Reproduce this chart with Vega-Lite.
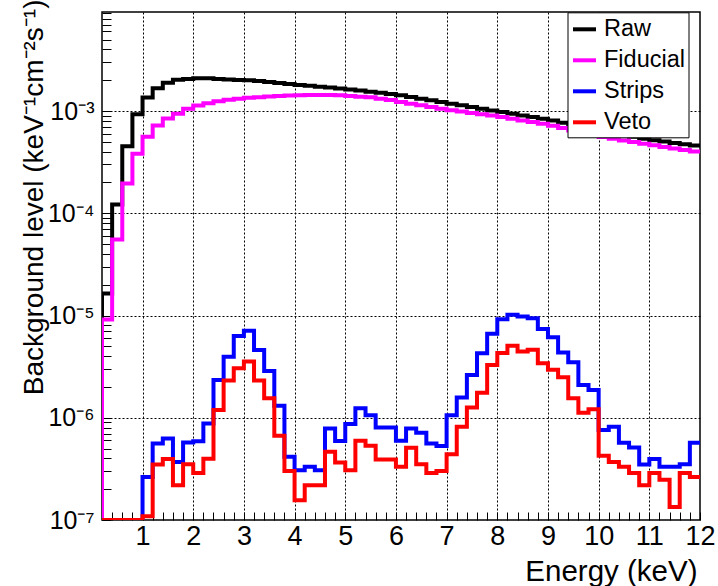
{
  "$schema": "https://vega.github.io/schema/vega-lite/v6.json",
  "width": 598,
  "height": 508,
  "autosize": {"type": "none"},
  "padding": {"left": 102, "top": 12, "right": 18, "bottom": 66},
  "background": "white",
  "config": {
    "view": {"stroke": "black", "strokeWidth": 1.5},
    "font": "Liberation Sans"
  },
  "datasets": {
    "hist": [
      {"s":"Raw","i":0,"e":0.2,"v":1e-7},
      {"s":"Raw","i":1,"e":0.2,"v":1.64e-5},
      {"s":"Raw","i":2,"e":0.4,"v":1.22e-4},
      {"s":"Raw","i":3,"e":0.6,"v":4.53e-4},
      {"s":"Raw","i":4,"e":0.8,"v":9.30e-4},
      {"s":"Raw","i":5,"e":1.0,"v":1.356e-3},
      {"s":"Raw","i":6,"e":1.2,"v":1.668e-3},
      {"s":"Raw","i":7,"e":1.4,"v":1.888e-3},
      {"s":"Raw","i":8,"e":1.6,"v":2.020e-3},
      {"s":"Raw","i":9,"e":1.8,"v":2.052e-3},
      {"s":"Raw","i":10,"e":2.0,"v":2.089e-3},
      {"s":"Raw","i":11,"e":2.2,"v":2.089e-3},
      {"s":"Raw","i":12,"e":2.4,"v":2.052e-3},
      {"s":"Raw","i":13,"e":2.6,"v":2.033e-3},
      {"s":"Raw","i":14,"e":2.8,"v":2.015e-3},
      {"s":"Raw","i":15,"e":3.0,"v":1.997e-3},
      {"s":"Raw","i":16,"e":3.2,"v":1.966e-3},
      {"s":"Raw","i":17,"e":3.4,"v":1.922e-3},
      {"s":"Raw","i":18,"e":3.6,"v":1.879e-3},
      {"s":"Raw","i":19,"e":3.8,"v":1.837e-3},
      {"s":"Raw","i":20,"e":4.0,"v":1.800e-3},
      {"s":"Raw","i":21,"e":4.2,"v":1.764e-3},
      {"s":"Raw","i":22,"e":4.4,"v":1.728e-3},
      {"s":"Raw","i":23,"e":4.6,"v":1.698e-3},
      {"s":"Raw","i":24,"e":4.8,"v":1.664e-3},
      {"s":"Raw","i":25,"e":5.0,"v":1.627e-3},
      {"s":"Raw","i":26,"e":5.2,"v":1.587e-3},
      {"s":"Raw","i":27,"e":5.4,"v":1.545e-3},
      {"s":"Raw","i":28,"e":5.6,"v":1.507e-3},
      {"s":"Raw","i":29,"e":5.8,"v":1.470e-3},
      {"s":"Raw","i":30,"e":6.0,"v":1.424e-3},
      {"s":"Raw","i":31,"e":6.2,"v":1.371e-3},
      {"s":"Raw","i":32,"e":6.4,"v":1.319e-3},
      {"s":"Raw","i":33,"e":6.6,"v":1.273e-3},
      {"s":"Raw","i":34,"e":6.8,"v":1.225e-3},
      {"s":"Raw","i":35,"e":7.0,"v":1.181e-3},
      {"s":"Raw","i":36,"e":7.2,"v":1.137e-3},
      {"s":"Raw","i":37,"e":7.4,"v":1.094e-3},
      {"s":"Raw","i":38,"e":7.6,"v":1.053e-3},
      {"s":"Raw","i":39,"e":7.8,"v":1.014e-3},
      {"s":"Raw","i":40,"e":8.0,"v":9.78e-4},
      {"s":"Raw","i":41,"e":8.2,"v":9.41e-4},
      {"s":"Raw","i":42,"e":8.4,"v":9.06e-4},
      {"s":"Raw","i":43,"e":8.6,"v":8.74e-4},
      {"s":"Raw","i":44,"e":8.8,"v":8.41e-4},
      {"s":"Raw","i":45,"e":9.0,"v":8.06e-4},
      {"s":"Raw","i":46,"e":9.2,"v":7.68e-4},
      {"s":"Raw","i":47,"e":9.4,"v":7.31e-4},
      {"s":"Raw","i":48,"e":9.6,"v":6.97e-4},
      {"s":"Raw","i":49,"e":9.8,"v":6.65e-4},
      {"s":"Raw","i":50,"e":10.0,"v":6.36e-4},
      {"s":"Raw","i":51,"e":10.2,"v":6.09e-4},
      {"s":"Raw","i":52,"e":10.4,"v":5.84e-4},
      {"s":"Raw","i":53,"e":10.6,"v":5.60e-4},
      {"s":"Raw","i":54,"e":10.8,"v":5.37e-4},
      {"s":"Raw","i":55,"e":11.0,"v":5.18e-4},
      {"s":"Raw","i":56,"e":11.2,"v":5.03e-4},
      {"s":"Raw","i":57,"e":11.4,"v":4.87e-4},
      {"s":"Raw","i":58,"e":11.6,"v":4.73e-4},
      {"s":"Raw","i":59,"e":11.8,"v":4.60e-4},
      {"s":"Raw","i":60,"e":12.0,"v":4.60e-4},

      {"s":"Fiducial","i":0,"e":0.2,"v":1e-7},
      {"s":"Fiducial","i":1,"e":0.2,"v":9.12e-6},
      {"s":"Fiducial","i":2,"e":0.4,"v":5.53e-5},
      {"s":"Fiducial","i":3,"e":0.6,"v":1.95e-4},
      {"s":"Fiducial","i":4,"e":0.8,"v":3.81e-4},
      {"s":"Fiducial","i":5,"e":1.0,"v":5.59e-4},
      {"s":"Fiducial","i":6,"e":1.2,"v":7.21e-4},
      {"s":"Fiducial","i":7,"e":1.4,"v":8.45e-4},
      {"s":"Fiducial","i":8,"e":1.6,"v":9.39e-4},
      {"s":"Fiducial","i":9,"e":1.8,"v":1.051e-3},
      {"s":"Fiducial","i":10,"e":2.0,"v":1.132e-3},
      {"s":"Fiducial","i":11,"e":2.2,"v":1.192e-3},
      {"s":"Fiducial","i":12,"e":2.4,"v":1.247e-3},
      {"s":"Fiducial","i":13,"e":2.6,"v":1.287e-3},
      {"s":"Fiducial","i":14,"e":2.8,"v":1.316e-3},
      {"s":"Fiducial","i":15,"e":3.0,"v":1.346e-3},
      {"s":"Fiducial","i":16,"e":3.2,"v":1.365e-3},
      {"s":"Fiducial","i":17,"e":3.4,"v":1.386e-3},
      {"s":"Fiducial","i":18,"e":3.6,"v":1.402e-3},
      {"s":"Fiducial","i":19,"e":3.8,"v":1.418e-3},
      {"s":"Fiducial","i":20,"e":4.0,"v":1.428e-3},
      {"s":"Fiducial","i":21,"e":4.2,"v":1.431e-3},
      {"s":"Fiducial","i":22,"e":4.4,"v":1.434e-3},
      {"s":"Fiducial","i":23,"e":4.6,"v":1.431e-3},
      {"s":"Fiducial","i":24,"e":4.8,"v":1.428e-3},
      {"s":"Fiducial","i":25,"e":5.0,"v":1.402e-3},
      {"s":"Fiducial","i":26,"e":5.2,"v":1.380e-3},
      {"s":"Fiducial","i":27,"e":5.4,"v":1.361e-3},
      {"s":"Fiducial","i":28,"e":5.6,"v":1.316e-3},
      {"s":"Fiducial","i":29,"e":5.8,"v":1.281e-3},
      {"s":"Fiducial","i":30,"e":6.0,"v":1.228e-3},
      {"s":"Fiducial","i":31,"e":6.2,"v":1.181e-3},
      {"s":"Fiducial","i":32,"e":6.4,"v":1.137e-3},
      {"s":"Fiducial","i":33,"e":6.6,"v":1.094e-3},
      {"s":"Fiducial","i":34,"e":6.8,"v":1.053e-3},
      {"s":"Fiducial","i":35,"e":7.0,"v":1.018e-3},
      {"s":"Fiducial","i":36,"e":7.2,"v":9.89e-4},
      {"s":"Fiducial","i":37,"e":7.4,"v":9.58e-4},
      {"s":"Fiducial","i":38,"e":7.6,"v":9.30e-4},
      {"s":"Fiducial","i":39,"e":7.8,"v":9.04e-4},
      {"s":"Fiducial","i":40,"e":8.0,"v":8.74e-4},
      {"s":"Fiducial","i":41,"e":8.2,"v":8.41e-4},
      {"s":"Fiducial","i":42,"e":8.4,"v":8.09e-4},
      {"s":"Fiducial","i":43,"e":8.6,"v":7.80e-4},
      {"s":"Fiducial","i":44,"e":8.8,"v":7.51e-4},
      {"s":"Fiducial","i":45,"e":9.0,"v":7.18e-4},
      {"s":"Fiducial","i":46,"e":9.2,"v":6.82e-4},
      {"s":"Fiducial","i":47,"e":9.4,"v":6.46e-4},
      {"s":"Fiducial","i":48,"e":9.6,"v":6.13e-4},
      {"s":"Fiducial","i":49,"e":9.8,"v":5.82e-4},
      {"s":"Fiducial","i":50,"e":10.0,"v":5.57e-4},
      {"s":"Fiducial","i":51,"e":10.2,"v":5.36e-4},
      {"s":"Fiducial","i":52,"e":10.4,"v":5.16e-4},
      {"s":"Fiducial","i":53,"e":10.6,"v":4.97e-4},
      {"s":"Fiducial","i":54,"e":10.8,"v":4.79e-4},
      {"s":"Fiducial","i":55,"e":11.0,"v":4.62e-4},
      {"s":"Fiducial","i":56,"e":11.2,"v":4.46e-4},
      {"s":"Fiducial","i":57,"e":11.4,"v":4.31e-4},
      {"s":"Fiducial","i":58,"e":11.6,"v":4.16e-4},
      {"s":"Fiducial","i":59,"e":11.8,"v":4.02e-4},
      {"s":"Fiducial","i":60,"e":12.0,"v":4.02e-4},

      {"s":"Strips","i":0,"e":0.2,"v":1e-7},
      {"s":"Strips","i":1,"e":0.2,"v":1e-7},
      {"s":"Strips","i":2,"e":0.4,"v":1e-7},
      {"s":"Strips","i":3,"e":0.6,"v":1e-7},
      {"s":"Strips","i":4,"e":0.8,"v":1e-7},
      {"s":"Strips","i":5,"e":1.0,"v":2.64e-7},
      {"s":"Strips","i":6,"e":1.2,"v":5.6e-7},
      {"s":"Strips","i":7,"e":1.4,"v":6.28e-7},
      {"s":"Strips","i":8,"e":1.6,"v":3.7e-7},
      {"s":"Strips","i":9,"e":1.8,"v":5.74e-7},
      {"s":"Strips","i":10,"e":2.0,"v":5.9e-7},
      {"s":"Strips","i":11,"e":2.2,"v":8.8e-7},
      {"s":"Strips","i":12,"e":2.4,"v":2.34e-6},
      {"s":"Strips","i":13,"e":2.6,"v":3.96e-6},
      {"s":"Strips","i":14,"e":2.8,"v":6.3e-6},
      {"s":"Strips","i":15,"e":3.0,"v":7.08e-6},
      {"s":"Strips","i":16,"e":3.2,"v":4.6e-6},
      {"s":"Strips","i":17,"e":3.4,"v":2.87e-6},
      {"s":"Strips","i":18,"e":3.6,"v":1.31e-6},
      {"s":"Strips","i":19,"e":3.8,"v":4.15e-7},
      {"s":"Strips","i":20,"e":4.0,"v":3.07e-7},
      {"s":"Strips","i":21,"e":4.2,"v":3.31e-7},
      {"s":"Strips","i":22,"e":4.4,"v":3.07e-7},
      {"s":"Strips","i":23,"e":4.6,"v":7.87e-7},
      {"s":"Strips","i":24,"e":4.8,"v":5.91e-7},
      {"s":"Strips","i":25,"e":5.0,"v":8.67e-7},
      {"s":"Strips","i":26,"e":5.2,"v":1.24e-6},
      {"s":"Strips","i":27,"e":5.4,"v":1.06e-6},
      {"s":"Strips","i":28,"e":5.6,"v":8.05e-7},
      {"s":"Strips","i":29,"e":5.8,"v":8.05e-7},
      {"s":"Strips","i":30,"e":6.0,"v":5.96e-7},
      {"s":"Strips","i":31,"e":6.2,"v":7.87e-7},
      {"s":"Strips","i":32,"e":6.4,"v":7.13e-7},
      {"s":"Strips","i":33,"e":6.6,"v":5.61e-7},
      {"s":"Strips","i":34,"e":6.8,"v":5.28e-7},
      {"s":"Strips","i":35,"e":7.0,"v":1.06e-6},
      {"s":"Strips","i":36,"e":7.2,"v":1.58e-6},
      {"s":"Strips","i":37,"e":7.4,"v":2.62e-6},
      {"s":"Strips","i":38,"e":7.6,"v":4.28e-6},
      {"s":"Strips","i":39,"e":7.8,"v":6.62e-6},
      {"s":"Strips","i":40,"e":8.0,"v":9.2e-6},
      {"s":"Strips","i":41,"e":8.2,"v":1.02e-5},
      {"s":"Strips","i":42,"e":8.4,"v":9.78e-6},
      {"s":"Strips","i":43,"e":8.6,"v":9.4e-6},
      {"s":"Strips","i":44,"e":8.8,"v":7.36e-6},
      {"s":"Strips","i":45,"e":9.0,"v":6.13e-6},
      {"s":"Strips","i":46,"e":9.2,"v":4.34e-6},
      {"s":"Strips","i":47,"e":9.4,"v":3.49e-6},
      {"s":"Strips","i":48,"e":9.6,"v":2.09e-6},
      {"s":"Strips","i":49,"e":9.8,"v":1.87e-6},
      {"s":"Strips","i":50,"e":10.0,"v":7.57e-7},
      {"s":"Strips","i":51,"e":10.2,"v":8.17e-7},
      {"s":"Strips","i":52,"e":10.4,"v":5.69e-7},
      {"s":"Strips","i":53,"e":10.6,"v":5.13e-7},
      {"s":"Strips","i":54,"e":10.8,"v":3.49e-7},
      {"s":"Strips","i":55,"e":11.0,"v":3.94e-7},
      {"s":"Strips","i":56,"e":11.2,"v":3.31e-7},
      {"s":"Strips","i":57,"e":11.4,"v":3.31e-7},
      {"s":"Strips","i":58,"e":11.6,"v":3.51e-7},
      {"s":"Strips","i":59,"e":11.8,"v":5.69e-7},
      {"s":"Strips","i":60,"e":12.0,"v":5.69e-7},

      {"s":"Veto","i":0,"e":0.2,"v":1e-7},
      {"s":"Veto","i":1,"e":0.2,"v":1e-7},
      {"s":"Veto","i":2,"e":0.4,"v":1e-7},
      {"s":"Veto","i":3,"e":0.6,"v":1e-7},
      {"s":"Veto","i":4,"e":0.8,"v":1e-7},
      {"s":"Veto","i":5,"e":1.0,"v":1.09e-7},
      {"s":"Veto","i":6,"e":1.2,"v":3.49e-7},
      {"s":"Veto","i":7,"e":1.4,"v":3.94e-7},
      {"s":"Veto","i":8,"e":1.6,"v":2.19e-7},
      {"s":"Veto","i":9,"e":1.8,"v":3.51e-7},
      {"s":"Veto","i":10,"e":2.0,"v":2.89e-7},
      {"s":"Veto","i":11,"e":2.2,"v":3.98e-7},
      {"s":"Veto","i":12,"e":2.4,"v":1.19e-6},
      {"s":"Veto","i":13,"e":2.6,"v":2.31e-6},
      {"s":"Veto","i":14,"e":2.8,"v":3.05e-6},
      {"s":"Veto","i":15,"e":3.0,"v":3.54e-6},
      {"s":"Veto","i":16,"e":3.2,"v":2.31e-6},
      {"s":"Veto","i":17,"e":3.4,"v":1.55e-6},
      {"s":"Veto","i":18,"e":3.6,"v":6.67e-7},
      {"s":"Veto","i":19,"e":3.8,"v":3.02e-7},
      {"s":"Veto","i":20,"e":4.0,"v":1.56e-7},
      {"s":"Veto","i":21,"e":4.2,"v":2.19e-7},
      {"s":"Veto","i":22,"e":4.4,"v":2.19e-7},
      {"s":"Veto","i":23,"e":4.6,"v":4.65e-7},
      {"s":"Veto","i":24,"e":4.8,"v":3.65e-7},
      {"s":"Veto","i":25,"e":5.0,"v":3.07e-7},
      {"s":"Veto","i":26,"e":5.2,"v":5.96e-7},
      {"s":"Veto","i":27,"e":5.4,"v":5.31e-7},
      {"s":"Veto","i":28,"e":5.6,"v":3.91e-7},
      {"s":"Veto","i":29,"e":5.8,"v":3.91e-7},
      {"s":"Veto","i":30,"e":6.0,"v":3.31e-7},
      {"s":"Veto","i":31,"e":6.2,"v":5.08e-7},
      {"s":"Veto","i":32,"e":6.4,"v":3.51e-7},
      {"s":"Veto","i":33,"e":6.6,"v":2.89e-7},
      {"s":"Veto","i":34,"e":6.8,"v":3.02e-7},
      {"s":"Veto","i":35,"e":7.0,"v":4.4e-7},
      {"s":"Veto","i":36,"e":7.2,"v":8.17e-7},
      {"s":"Veto","i":37,"e":7.4,"v":1.26e-6},
      {"s":"Veto","i":38,"e":7.6,"v":1.76e-6},
      {"s":"Veto","i":39,"e":7.8,"v":3.29e-6},
      {"s":"Veto","i":40,"e":8.0,"v":4.3e-6},
      {"s":"Veto","i":41,"e":8.2,"v":5.05e-6},
      {"s":"Veto","i":42,"e":8.4,"v":4.44e-6},
      {"s":"Veto","i":43,"e":8.6,"v":4.62e-6},
      {"s":"Veto","i":44,"e":8.8,"v":3.41e-6},
      {"s":"Veto","i":45,"e":9.0,"v":2.94e-6},
      {"s":"Veto","i":46,"e":9.2,"v":2.49e-6},
      {"s":"Veto","i":47,"e":9.4,"v":1.55e-6},
      {"s":"Veto","i":48,"e":9.6,"v":1.12e-6},
      {"s":"Veto","i":49,"e":9.8,"v":1.21e-6},
      {"s":"Veto","i":50,"e":10.0,"v":4.24e-7},
      {"s":"Veto","i":51,"e":10.2,"v":3.70e-7},
      {"s":"Veto","i":52,"e":10.4,"v":3.31e-7},
      {"s":"Veto","i":53,"e":10.6,"v":2.89e-7},
      {"s":"Veto","i":54,"e":10.8,"v":2.19e-7},
      {"s":"Veto","i":55,"e":11.0,"v":2.89e-7},
      {"s":"Veto","i":56,"e":11.2,"v":2.47e-7},
      {"s":"Veto","i":57,"e":11.4,"v":1.34e-7},
      {"s":"Veto","i":58,"e":11.6,"v":2.89e-7},
      {"s":"Veto","i":59,"e":11.8,"v":2.64e-7},
      {"s":"Veto","i":60,"e":12.0,"v":2.64e-7}
    ]
  },
  "data": {"name": "hist"},
  "mark": {"type": "line", "interpolate": "step-after", "strokeWidth": 4, "strokeJoin": "miter", "strokeCap": "butt", "clip": true},
  "encoding": {
    "x": {
      "field": "e", "type": "quantitative",
      "scale": {"domain": [0.2, 12], "nice": false, "zero": false},
      "axis": {
        "values": [0.2,0.4,0.6,0.8,1,1.2,1.4,1.6,1.8,2,2.2,2.4,2.6,2.8,3,3.2,3.4,3.6,3.8,4,4.2,4.4,4.6,4.8,5,5.2,5.4,5.6,5.8,6,6.2,6.4,6.6,6.8,7,7.2,7.4,7.6,7.8,8,8.2,8.4,8.6,8.8,9,9.2,9.4,9.6,9.8,10,10.2,10.4,10.6,10.8,11,11.2,11.4,11.6,11.8,12],
        "labelExpr": "abs(datum.value - round(datum.value)) < 0.01 ? '' + round(datum.value) : ''",
        "labelOverlap": false,
        "labelFlush": false,
        "labelBound": false,
        "labelFont": "Liberation Sans",
        "labelFontSize": 27,
        "labelColor": "black",
        "labelPadding": 11,
        "domain": false,
        "grid": true,
        "gridColor": "black",
        "gridDash": [2, 2],
        "gridWidth": 1,
        "gridOpacity": {"condition": {"test": "abs(datum.value - round(datum.value)) < 0.01 && datum.value < 11.9", "value": 1}, "value": 0},
        "ticks": true,
        "tickColor": "black",
        "tickWidth": 1,
        "tickSize": -8,
        "title": "Energy (keV)",
        "titleFont": "Liberation Sans",
        "titleFontSize": 29.5,
        "titleFontWeight": "normal",
        "titleColor": "black",
        "titleAlign": "right",
        "titleAnchor": "end",
        "titleBaseline": "alphabetic",
        "titleX": 595,
        "titleY": 60
      }
    },
    "y": {
      "field": "v", "type": "quantitative",
      "scale": {"type": "log", "domain": [1e-7, 0.0093], "nice": false},
      "axis": {
        "values": [1e-7,2e-7,3e-7,4e-7,5e-7,6e-7,7e-7,8e-7,9e-7,1e-6,2e-6,3e-6,4e-6,5e-6,6e-6,7e-6,8e-6,9e-6,1e-5,2e-5,3e-5,4e-5,5e-5,6e-5,7e-5,8e-5,9e-5,1e-4,2e-4,3e-4,4e-4,5e-4,6e-4,7e-4,8e-4,9e-4,1e-3,2e-3,3e-3,4e-3,5e-3,6e-3,7e-3,8e-3,9e-3],
        "labelExpr": "datum.value === 1e-7 ? '10⁻⁷' : datum.value === 1e-6 ? '10⁻⁶' : datum.value === 1e-5 ? '10⁻⁵' : datum.value === 1e-4 ? '10⁻⁴' : datum.value === 1e-3 ? '10⁻³' : ''",
        "labelOverlap": false,
        "labelBound": false,
        "labelFlush": false,
        "labelFont": "Liberation Sans",
        "labelFontSize": 25,
        "labelColor": "black",
        "labelPadding": 17,
        "domain": false,
        "grid": true,
        "gridColor": "black",
        "gridDash": [2, 2],
        "gridWidth": 1,
        "gridOpacity": {"condition": {"test": "abs(log(datum.value)/LN10 - round(log(datum.value)/LN10)) < 0.001 && datum.value > 2e-7", "value": 1}, "value": 0},
        "ticks": true,
        "tickColor": "black",
        "tickWidth": 1,
        "tickSize": -9,
        "title": "Background level (keV⁻¹cm⁻²s⁻¹)",
        "titleFont": "Liberation Sans",
        "titleFontSize": 28,
        "titleFontWeight": "normal",
        "titleColor": "black",
        "titleAngle": 270,
        "titleAlign": "right",
        "titleAnchor": "end",
        "titleBaseline": "alphabetic",
        "titleX": -60,
        "titleY": -13
      }
    },
    "color": {
      "field": "s", "type": "nominal",
      "scale": {"domain": ["Raw", "Fiducial", "Strips", "Veto"], "range": ["#000000", "#ff00ff", "#0000ff", "#ff0000"]},
      "legend": {
        "orient": "none",
        "legendX": 465.5,
        "legendY": 0.3,
        "title": null,
        "direction": "vertical",
        "fillColor": "white",
        "strokeColor": "black",
        "padding": 3.5,
        "symbolType": "stroke",
        "symbolSize": 529,
        "symbolStrokeWidth": 4,
        "labelFont": "Liberation Sans",
        "labelFontSize": 23.5,
        "labelColor": "black",
        "labelOffset": 6,
        "rowPadding": 6,
        "zindex": 1,
        "labelExpr": "datum.label + '\u2002'"
      }
    },
    "order": {"field": "i", "type": "quantitative"}
  }
}
